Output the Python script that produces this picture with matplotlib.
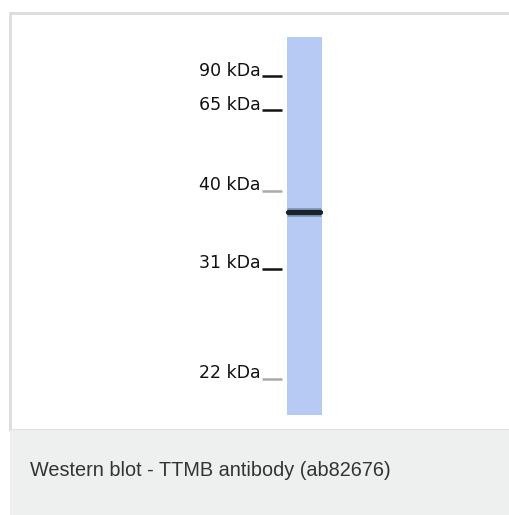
import matplotlib
matplotlib.use('Agg')
import matplotlib.pyplot as plt
from matplotlib.patches import Rectangle

# marker ladder: label, y position of the marker tick on the blot (px), tick shade
marker_labels = ["90 kDa", "65 kDa", "40 kDa", "31 kDa", "22 kDa"]
marker_pos = [76, 110, 191, 269, 379]
marker_colors = ["#111111", "#111111", "#aaaaaa", "#111111", "#aaaaaa"]

# detected band(s) in the single lane
band_pos = [212]
band_strength = [1.0]

caption = "Western blot - TTMB antibody (ab82676)"

fig = plt.figure(figsize=(5.1, 5.15), dpi=100)
ax = fig.add_axes([0, 0, 1, 1])
ax.set_xlim(0, 510)
ax.set_ylim(515, 0)
ax.axis("off")

# image panel and caption box
ax.add_patch(Rectangle((10, 12.5), 505, 417, facecolor="white", edgecolor="#dcdcdc", linewidth=2))
ax.add_patch(Rectangle((10, 430), 505, 90, facecolor="#eef0ef", edgecolor="none"))

# lane
lane_left, lane_right = 287, 322
ax.add_patch(Rectangle((lane_left, 37), lane_right - lane_left, 378, facecolor="#b6caf3", edgecolor="none"))

# band, drawn as a soft core plus halo
for y, s in zip(band_pos, band_strength):
  ax.plot([lane_left, lane_right - 1], [y, y], color="#4d6280", linewidth=6.5, alpha=0.45 * s,
          solid_capstyle="butt")
  ax.plot([lane_left + 1, lane_right - 2], [y, y], color="#18232a", linewidth=3.8, alpha=s,
          solid_capstyle="round")

# marker labels and ticks
for lab, y, c in zip(marker_labels, marker_pos, marker_colors):
  ax.text(261, y - 0.5, lab, ha="right", va="baseline", fontsize=12.5, color="#111111",
          family="DejaVu Sans")
  ax.plot([262, 282], [y, y], color=c, linewidth=1.8, solid_capstyle="butt")

ax.text(30, 470, caption, ha="left", va="center", fontsize=14.3, color="#333333",
        family="Liberation Sans")

fig.savefig("out.png", dpi=100)
